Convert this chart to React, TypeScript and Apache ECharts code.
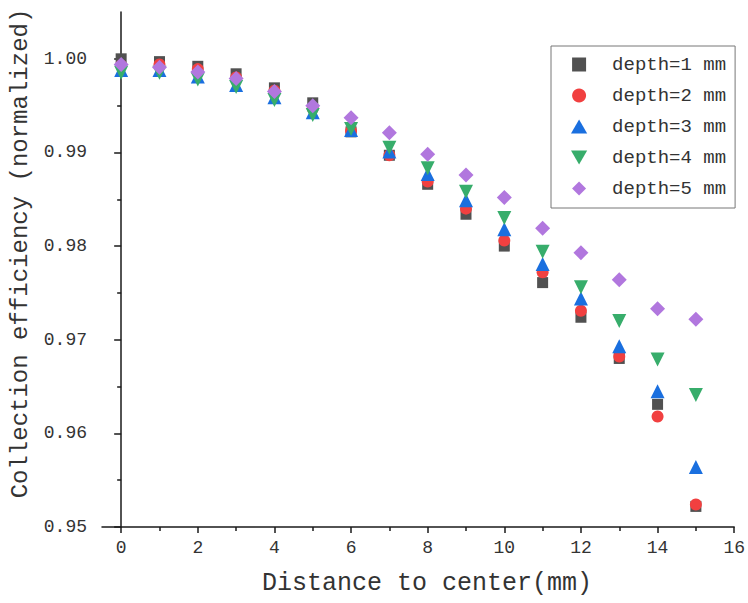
import React, { useEffect, useRef } from "react";
import * as echarts from "echarts";

const distances = [0, 1, 2, 3, 4, 5, 6, 7, 8, 9, 10, 11, 12, 13, 14, 15];
const depth1 = [1.0, 0.9997, 0.9992, 0.9984, 0.9969, 0.9953, 0.9922, 0.9897, 0.9866, 0.9834, 0.98, 0.9761, 0.9724, 0.968, 0.9631, 0.9522];
const depth2 = [0.9993, 0.9994, 0.9989, 0.998, 0.9966, 0.9947, 0.9923, 0.9897, 0.9869, 0.984, 0.9806, 0.9772, 0.9731, 0.9682, 0.9618, 0.9524];
const depth3 = [0.9988, 0.9988, 0.9981, 0.9972, 0.9959, 0.9943, 0.9924, 0.9901, 0.9877, 0.9849, 0.9818, 0.9781, 0.9744, 0.9693, 0.9645, 0.9564];
const depth4 = [0.9985, 0.9985, 0.9978, 0.997, 0.9956, 0.994, 0.9925, 0.9905, 0.9883, 0.9858, 0.983, 0.9794, 0.9756, 0.972, 0.9679, 0.9641];
const depth5 = [0.9994, 0.9991, 0.9986, 0.9979, 0.9965, 0.995, 0.9937, 0.9921, 0.9898, 0.9876, 0.9852, 0.9819, 0.9793, 0.9764, 0.9733, 0.9722];

const seriesNames = ["depth=1 mm", "depth=2 mm", "depth=3 mm", "depth=4 mm", "depth=5 mm"];
const xMajorTicks = [0, 2, 4, 6, 8, 10, 12, 14, 16];
const xMinorTicks = [1, 3, 5, 7, 9, 11, 13, 15];
const yMajorTicks = [0.95, 0.96, 0.97, 0.98, 0.99, 1.0];
const yMinorTicks = [0.955, 0.965, 0.975, 0.985, 0.995];

const FONT = "Liberation Mono";

export default function App() {
  const ref = useRef<HTMLDivElement>(null);
  useEffect(() => {
    if (!ref.current) return;
    const chart = echarts.init(ref.current, null, { renderer: "svg" });
    const all = [depth1, depth2, depth3, depth4, depth5];
    const colors = ["#515151", "#F14040", "#1A6FDF", "#37AD6B", "#B177DE"];
    const symbols = ["rect", "circle", "triangle", "triangle", "diamond"];
    const legendIcons = [
      "path://M0,0L10,0L10,10L0,10Z",
      "circle",
      "path://M5,0L10,8.66L0,8.66Z",
      "path://M0,0L10,0L5,8.66Z",
      "path://M5,0L10,5L5,10L0,5Z",
    ];
    const sizes = [11, 12, 14, 14, 15];
    const rotates = [0, 0, 0, 180, 0];
    const axisLine = { show: true, lineStyle: { color: "#1a1a1a", width: 1.5 } };
    chart.setOption({
      animation: false,
      backgroundColor: "#ffffff",
      grid: { left: 102, right: 10, top: 12, bottom: 76 },
      legend: {
        orient: "vertical",
        left: 551,
        top: 46,
        padding: [9, 9, 10, 20],
        itemWidth: 56,
        itemHeight: 14,
        itemGap: 12,
        symbolKeepAspect: true,
        borderColor: "#777",
        borderWidth: 1,
        textStyle: { fontFamily: FONT, fontSize: 19, color: "#333" },
        data: seriesNames.map((n, i) => ({ name: n, icon: legendIcons[i] })),
      },
      xAxis: [
        {
          type: "value",
          min: -0.5,
          max: 16,
          axisLine,
          splitLine: { show: false },
          axisTick: { show: true, length: 6, inside: false, customValues: xMajorTicks, lineStyle: { color: "#1a1a1a", width: 1.5 } },
          axisLabel: { customValues: xMajorTicks, margin: 12, fontFamily: FONT, fontSize: 18, color: "#333" },
          name: "Distance to center(mm)",
          nameLocation: "middle",
          nameGap: 44,
          nameTextStyle: { fontFamily: FONT, fontSize: 25, color: "#333", padding: [0, 0, 0, 18] },
        },
        {
          type: "value",
          min: -0.5,
          max: 16,
          position: "bottom",
          axisLine: { show: false },
          splitLine: { show: false },
          axisTick: { show: true, length: 4, customValues: xMinorTicks, lineStyle: { color: "#1a1a1a", width: 1.5 } },
          axisLabel: { show: false },
        },
      ],
      yAxis: [
        {
          type: "value",
          min: 0.95,
          max: 1.005,
          axisLine,
          splitLine: { show: false },
          axisTick: { show: true, length: 7, customValues: yMajorTicks, lineStyle: { color: "#1a1a1a", width: 1.5 } },
          axisLabel: {
            customValues: yMajorTicks,
            margin: 15,
            fontFamily: FONT,
            fontSize: 18,
            color: "#333",
            formatter: (v: number) => v.toFixed(2),
          },
          name: "Collection efficiency (normalized)",
          nameLocation: "middle",
          nameGap: 66,
          nameTextStyle: { fontFamily: FONT, fontSize: 24, color: "#333", padding: [0, 0, 0, 32] },
        },
        {
          type: "value",
          min: 0.95,
          max: 1.005,
          position: "left",
          axisLine: { show: false },
          splitLine: { show: false },
          axisTick: { show: true, length: 4, customValues: yMinorTicks, lineStyle: { color: "#1a1a1a", width: 1.5 } },
          axisLabel: { show: false },
        },
      ],
      series: all.map((vals, i) => ({
        name: seriesNames[i],
        type: "scatter",
        xAxisIndex: 0,
        yAxisIndex: 0,
        symbol: symbols[i],
        symbolSize: sizes[i],
        symbolRotate: rotates[i],
        itemStyle: { color: colors[i], opacity: 1 },
        data: distances.map((d, j) => [d, vals[j]]),
      })),
    });
    return () => chart.dispose();
  }, []);
  return <div ref={ref} style={{ position: "fixed", left: 0, top: 0, width: 748, height: 603 }} />;
}
